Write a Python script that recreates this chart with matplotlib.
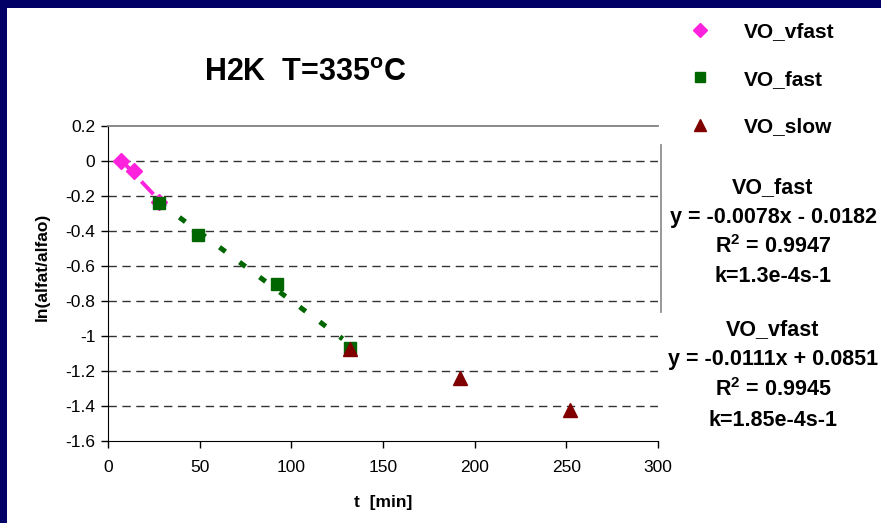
import matplotlib
matplotlib.use("Agg")
import matplotlib.pyplot as plt
from matplotlib.lines import Line2D
from matplotlib.patches import Rectangle
import numpy as np

plt.rcParams['font.family'] = ['Liberation Sans', 'DejaVu Sans']
plt.rcParams['axes.unicode_minus'] = False
plt.rcParams['mathtext.fontset'] = 'custom'
plt.rcParams['mathtext.rm'] = 'Liberation Sans'
plt.rcParams['mathtext.bf'] = 'Liberation Sans:bold'

# ---- data ----
vfast_t = [7, 14, 28]
vfast_y = [0.0, -0.055, -0.235]
fast_t = [28, 49, 92, 132]
fast_y = [-0.242, -0.425, -0.700, -1.068]
slow_t = [132, 192, 252]
slow_y = [-1.072, -1.238, -1.423]

fast_fit = (-0.0078, -0.0182)
vfast_fit = (-0.0111, 0.0851)

title = "H2K  T=335$^{\\mathbf{o}}$C"
xlabel = "t  [min]"
ylabel = "ln(alfat/alfao)"
series_names = ["VO_vfast", "VO_fast", "VO_slow"]
fast_label = ["VO_fast", "y = -0.0078x - 0.0182", "R$^{\\mathbf{2}}$ = 0.9947", "k=1.3e-4s-1"]
vfast_label = ["VO_vfast", "y = -0.0111x + 0.0851", "R$^{\\mathbf{2}}$ = 0.9945", "k=1.85e-4s-1"]
xticks = [0, 50, 100, 150, 200, 250, 300]
yticks = [0.2, 0, -0.2, -0.4, -0.6, -0.8, -1, -1.2, -1.4, -1.6]

C_MAG = '#ff22dd'
C_GRN = '#006600'
C_RED = '#800000'
NAVY = '#000066'

W, H = 881, 523
fig = plt.figure(figsize=(W / 100, H / 100), dpi=100)
fig.patch.set_facecolor('white')

# navy frame (left and top)
fig.patches.append(Rectangle((0, 0), 7 / W, 1, transform=fig.transFigure,
                             facecolor=NAVY, edgecolor='none', zorder=0))
fig.patches.append(Rectangle((0, 1 - 8 / H), 1, 8 / H, transform=fig.transFigure,
                             facecolor=NAVY, edgecolor='none', zorder=0))

x0, x1 = 108, 658
y_top, y_bot = 126, 441
ax = fig.add_axes([x0 / W, (H - y_bot) / H, (x1 - x0) / W, (y_bot - y_top) / H])
ax.set_xlim(0, 300)
ax.set_ylim(-1.6, 0.2)
ax.set_facecolor('white')

for yv in yticks:
    if -1.6 < yv < 0.2:
        ax.axhline(yv, color='#333333', lw=1.0, ls=(0, (6, 4)), zorder=1)

# trendlines
tv = np.array([min(vfast_t), max(vfast_t)])
ax.plot(tv, vfast_fit[0] * tv + vfast_fit[1], color=C_MAG, lw=2.8,
        ls=(0, (4.5, 3.2)), zorder=2)
tf = np.array([min(fast_t), max(fast_t) - 4])
ax.plot(tf, fast_fit[0] * tf + fast_fit[1], color=C_GRN, lw=3.6,
        ls=(0, (1.5, 3.5)), zorder=2)

ax.plot(vfast_t, vfast_y, ls='none', marker='D', ms=8.5, color=C_MAG, mec=C_MAG, zorder=3)
ax.plot(fast_t, fast_y, ls='none', marker='s', ms=9, color=C_GRN, mec=C_GRN, zorder=4)
ax.plot(slow_t, slow_y, ls='none', marker='^', ms=10, color=C_RED, mec=C_RED, zorder=5)

ax.spines['left'].set_color('black')
ax.spines['bottom'].set_color('black')
ax.spines['top'].set_color('#808080')
ax.spines['top'].set_linewidth(1.3)
ax.spines['right'].set_visible(False)
# visible fragment of the right border of the plot area
ax.plot([301.6, 301.6], [0.091, -0.863], color='#909090', lw=1.3, clip_on=False, zorder=1)

ax.set_xticks(xticks)
ax.set_yticks(yticks)
ax.set_xticklabels([f"{v:g}" for v in xticks])
ax.set_yticklabels([f"{v:g}" for v in yticks])
ax.tick_params(axis='both', direction='out', length=5, width=1, color='black',
               labelsize=12.5, pad=4)
ax.tick_params(axis='x', pad=9)

fig.text(383 / W, 1 - 503 / H, xlabel, ha='center', va='center',
         fontsize=12.5, fontweight='bold')
fig.text(42 / W, 1 - 267 / H, ylabel, ha='center', va='center', rotation=90,
         fontsize=12.5, fontweight='bold')
fig.text(305 / W, 1 - 73 / H, title, ha='center', va='center',
         fontsize=22, fontweight='bold')

handles = [Line2D([], [], ls='none', marker='D', ms=7, color=C_MAG),
           Line2D([], [], ls='none', marker='s', ms=7, color=C_GRN),
           Line2D([], [], ls='none', marker='^', ms=8, color=C_RED)]
leg = fig.legend(handles, series_names, loc='upper left',
                 bbox_to_anchor=(690 / W, 1 - 22 / H), frameon=False,
                 prop={'weight': 'bold', 'size': 15}, labelspacing=1.38,
                 handlelength=1.0, handletextpad=1.6, borderpad=0, borderaxespad=0)

for lines, ys in ((fast_label, [188, 217, 247, 277]), (vfast_label, [330, 360, 390, 421])):
    for txt, yy in zip(lines, ys):
        fig.text(773 / W, 1 - yy / H, txt, ha='center', va='center',
                 fontsize=15.5, fontweight='bold')

fig.savefig('out.png', dpi=100, facecolor='white')
